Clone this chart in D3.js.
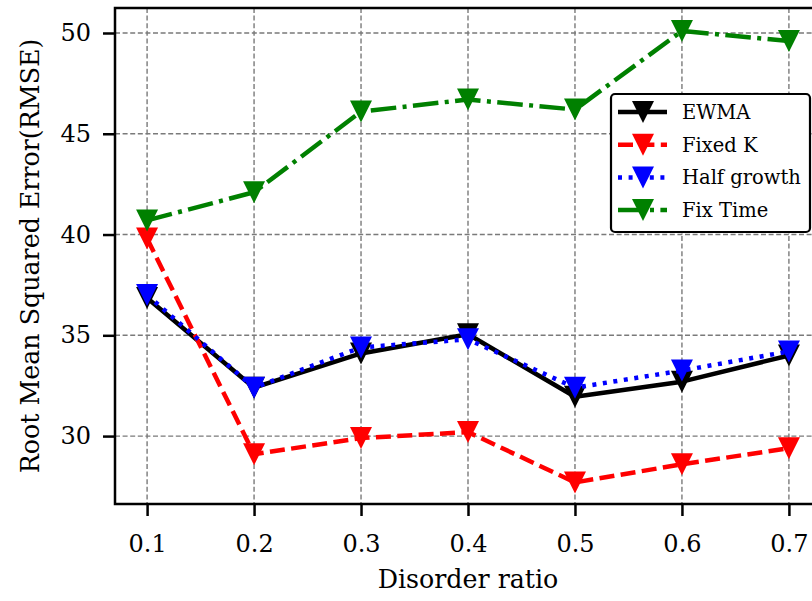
<!DOCTYPE html>
<html>
<head>
<meta charset="utf-8">
<script src="https://cdn.jsdelivr.net/npm/d3@7"></script>
<style>
  body { margin: 0; background: #fff; }
  svg { display: block; }
  text { font-family: "DejaVu Serif", serif; fill: #000; }
</style>
</head>
<body>
<svg id="chart" width="812" height="601"></svg>
<script>
// data
const ratios = [0.1, 0.2, 0.3, 0.4, 0.5, 0.6, 0.7];
const ewma = [36.85, 32.4, 34.1, 35.05, 31.95, 32.7, 34.0];
const fixedK = [39.8, 29.1, 29.9, 30.2, 27.7, 28.6, 29.4];
const halfGrowth = [37.0, 32.4, 34.4, 34.8, 32.4, 33.25, 34.2];
const fixTime = [40.7, 42.1, 46.1, 46.7, 46.2, 50.1, 49.6];
const xTicks = [0.1, 0.2, 0.3, 0.4, 0.5, 0.6, 0.7];
const yTicks = [30, 35, 40, 45, 50];

const series = [
    { name: 'EWMA', values: ewma, color: '#000000', dash: null },
    { name: 'Fixed K', values: fixedK, color: '#ff0000', dash: '15,6.4' },
    { name: 'Half growth', values: halfGrowth, color: '#0000ff', dash: '4,6.6' },
    { name: 'Fix Time', values: fixTime, color: '#008000', dash: '25.6,6.4,4,6.4' }
];

const svg = d3.select('#chart');
const plotL = 115, plotR = 821, plotT = 8, plotB = 504;

const x = d3.scaleLinear().domain([0.07, 0.73]).range([plotL, plotR]);
const y = d3.scaleLinear().domain([26.63, 51.24]).range([plotB, plotT]);

// grid
const grid = svg.append('g').attr('class', 'grid');
grid.selectAll('.vgrid')
    .data(xTicks)
    .enter()
    .append('line')
    .attr('x1', (d) => x(d)).attr('x2', (d) => x(d))
    .attr('y1', plotT).attr('y2', plotB);
grid.selectAll('.hgrid')
    .data(yTicks)
    .enter()
    .append('line')
    .attr('x1', plotL).attr('x2', plotR)
    .attr('y1', (d) => y(d)).attr('y2', (d) => y(d));
grid.selectAll('line')
    .attr('stroke', '#7a7a7a')
    .attr('stroke-width', 1.4)
    .attr('stroke-dasharray', '5,2.6');

// markers: downward triangle
const ms = 22;
const tri = `M0,${ms / 2}L${-ms / 2},${-ms / 2}L${ms / 2},${-ms / 2}Z`;

const line = d3.line()
    .x((d, i) => x(ratios[i]))
    .y((d) => y(d));

series.forEach((s) => {
    const g = svg.append('g');
    g.append('path')
        .attr('d', line(s.values))
        .attr('fill', 'none')
        .attr('stroke', s.color)
        .attr('stroke-width', 4.5)
        .attr('stroke-linejoin', 'round')
        .attr('stroke-dasharray', s.dash);
    g.selectAll('.mk')
        .data(s.values)
        .enter()
        .append('path')
        .attr('d', tri)
        .attr('fill', s.color)
        .attr('transform', (d, i) => `translate(${x(ratios[i])},${y(d)})`);
});

// axes
const xAxis = svg.append('g')
    .attr('transform', `translate(0,${plotB})`)
    .call(d3.axisBottom(x).tickValues(xTicks).tickSize(12).tickPadding(19)
        .tickFormat(d3.format('.1f')));
const yAxis = svg.append('g')
    .attr('transform', `translate(${plotL},0)`)
    .call(d3.axisLeft(y).tickValues(yTicks).tickSize(12).tickPadding(12));

[xAxis, yAxis].forEach((a) => {
    a.select('.domain').remove();
    a.selectAll('.tick line').attr('stroke', '#000').attr('stroke-width', 2.5);
    a.selectAll('.tick text').attr('font-size', 24).attr('fill', '#000');
});

// spines
svg.append('rect')
    .attr('x', plotL).attr('y', plotT)
    .attr('width', plotR - plotL).attr('height', plotB - plotT)
    .attr('fill', 'none')
    .attr('stroke', '#000')
    .attr('stroke-width', 2.5);

// axis titles
svg.append('text')
    .attr('x', 468)
    .attr('y', 588)
    .attr('text-anchor', 'middle')
    .attr('font-size', 25.3)
    .text('Disorder ratio');

svg.append('text')
    .attr('transform', `translate(39,${(plotT + plotB) / 2}) rotate(-90)`)
    .attr('text-anchor', 'middle')
    .attr('font-size', 25.3)
    .text('Root Mean Squared Error(RMSE)');

// legend
const legend = svg.append('g').attr('transform', 'translate(611,94)');
legend.append('rect')
    .attr('width', 199).attr('height', 138)
    .attr('rx', 4).attr('ry', 4)
    .attr('fill', '#fff')
    .attr('stroke', '#000')
    .attr('stroke-width', 2.2);

const item = legend.selectAll('.item')
    .data(series)
    .enter()
    .append('g')
    .attr('transform', (d, i) => `translate(0,${18 + i * 32.7})`);
item.append('line')
    .attr('x1', 7).attr('x2', 56)
    .attr('stroke', (d) => d.color)
    .attr('stroke-width', 4.5)
    .attr('stroke-dasharray', (d) => d.dash);
item.append('path')
    .attr('d', tri)
    .attr('fill', (d) => d.color)
    .attr('transform', 'translate(32,0)');
item.append('text')
    .attr('x', 71)
    .attr('dy', '0.35em')
    .attr('font-size', 19.5)
    .text((d) => d.name);
</script>
</body>
</html>
